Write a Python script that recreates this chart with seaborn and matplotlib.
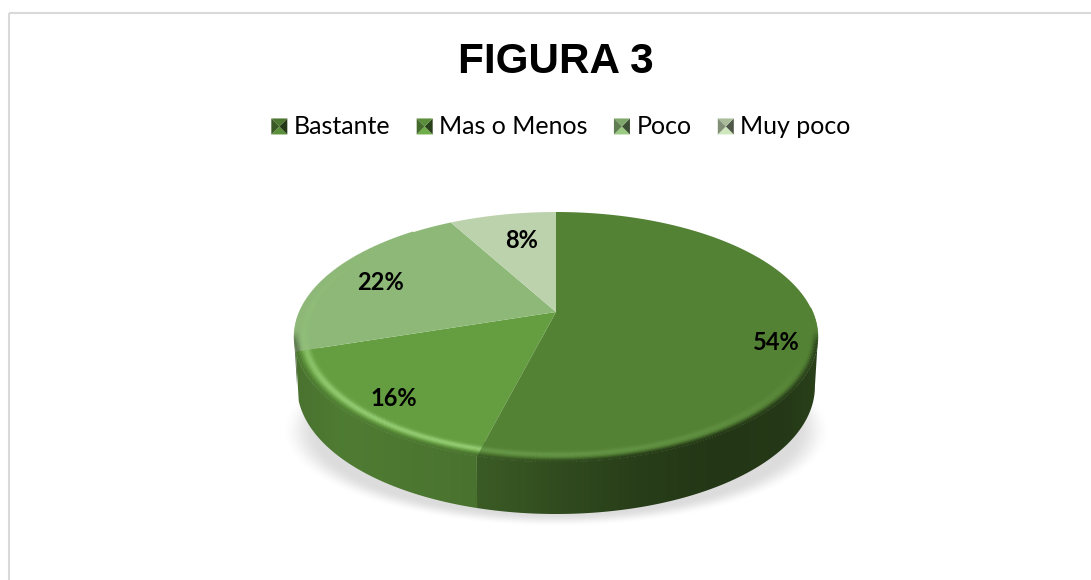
import numpy as np
import matplotlib
matplotlib.use("Agg")
import matplotlib.pyplot as plt
from matplotlib.patches import Polygon, Rectangle
from matplotlib.legend_handler import HandlerBase
from matplotlib.collections import LineCollection
from matplotlib.colors import to_rgb
import seaborn as sns

categories = ["Bastante", "Mas o Menos", "Poco", "Muy poco"]
values = [54, 16, 22, 8]
colors = ["#548235", "#659e41", "#8db877", "#bcd2ac"]
title = "FIGURA 3"

# layout (pixels)
W, H = 1091, 580
CX, AY = 556.0, 312.0
A, B, K = 256.7, 120.0, 0.2
DEPTH = 52.0
label_xy = [(776, 342), (394, 398), (380, 282), (522, 241)]

sns.set_theme(style="white")
fig = plt.figure(figsize=(W / 100, H / 100), dpi=100, facecolor="white")
ax = fig.add_axes([0, 0, 1, 1])


def project(theta_deg, r=1.0):
    t = np.radians(theta_deg)
    u, v = r * np.cos(t), r * np.sin(t)
    d = 1 + K * v
    return CX + A * u / d, AY - B * v / d


def lower(x, y, theta):
    f = 1 - 0.012 * np.abs(np.cos(np.radians(theta)))
    return CX + (x - CX) * f, y + DEPTH * (0.93 + 0.07 * -np.sin(np.radians(theta)))


def smooth(a):
    a = np.clip(a, 0, 1)
    return a * a * (3 - 2 * a)


# slice angles come from the library's pie
wedges, _ = ax.pie(values, startangle=90, counterclock=False, colors=colors, frame=True)
spans = [(min(w.theta1, w.theta2), max(w.theta1, w.theta2)) for w in wedges]
for w in wedges:
    w.remove()

# soft shadow
yy, xx = np.mgrid[0:H, 0:W]
dist = np.sqrt(((xx - CX) / 274.0) ** 2 + ((yy - 430.0) / 96.0) ** 2)
rgba = np.zeros((H, W, 4))
rgba[..., :3] = 0.62
rgba[..., 3] = smooth((1.0 - dist) / 0.13) * 0.36
ax.imshow(rgba, extent=(0, W, H, 0), zorder=1, aspect="auto")

# side wall, silhouette begins where the projected ellipse is widest
SIL_L, SIL_R = 180 + np.degrees(np.arcsin(K)), 360 - np.degrees(np.arcsin(K))
shade_x = {
    0: ([480, 560, 640, 720, 790, 820], [0.70, 0.58, 0.47, 0.42, 0.44, 0.50]),
    1: ([294, 340, 400, 478], [0.72, 0.78, 0.76, 0.72]),
    2: ([290, 300], [0.60, 0.60]),
    3: ([290, 300], [0.60, 0.60]),
}


def side_shade(i, x):
    return np.interp(x, *shade_x[i])


for i, (lo, hi) in enumerate(spans):
    for k in (-360, 0, 360):
        a, b = max(lo + k, SIL_L), min(hi + k, SIL_R)
        if b <= a:
            continue
        th = np.linspace(a, b, 200)
        x, y = project(th)
        x2, y2 = lower(x, y, th)
        poly = Polygon(np.r_[np.c_[x, y], np.c_[x2, y2][::-1]], closed=True,
                       fc="none", ec="none", transform=ax.transData)
        ax.add_patch(poly)
        cols = np.arange(int(x.min()) - 2, int(x.max()) + 3)
        img = (np.array(to_rgb(colors[i]))[None, :] * side_shade(i, cols)[:, None])[None, ...]
        im = ax.imshow(img, extent=(cols[0], cols[-1], y2.max() + 2, y.min() - 2),
                       zorder=2, aspect="auto", interpolation="bilinear")
        im.set_clip_path(poly)

# top face
for i, (lo, hi) in enumerate(spans):
    th = np.linspace(lo, hi, 300)
    x, y = project(th)
    ax.add_patch(Polygon(np.r_[[[CX, AY]], np.c_[x, y]], closed=True, fc=colors[i],
                         ec="none", zorder=3))

# bevel: highlight ring just inside the edge, melting into the wall at the edge
HL = np.array(to_rgb("#a4dc84"))
strength = {0: 0.3, 1: 0.95, 2: 0.3, 3: 0.0}
for i, (lo, hi) in enumerate(spans):
    for k in (-360, 0, 360):
        a, b = max(lo + k, 130), min(hi + k, 362)
        if b <= a:
            continue
        th = np.linspace(a, b, 160)
        thm = 0.5 * (th[:-1] + th[1:])
        for r in np.arange(0.925, 1.0001, 0.006):
            x, y = project(th, r)
            pts = np.c_[x, y][:, None, :]
            segs = np.concatenate([pts[:-1], pts[1:]], axis=1)
            xm = 0.5 * (x[:-1] + x[1:])
            base = np.array(to_rgb(colors[i]))
            fade = np.interp(thm, [130, 180, 215, 256, 300, 345], [0, 0.7, 1, 1, 0.6, 0.0])
            hl = np.exp(-(((r - 0.962) / 0.014) ** 2)) * strength[i] * fade * 0.8
            c = base[None, :] + (HL - base)[None, :] * hl[:, None]
            front = smooth((thm - SIL_L + 4) / 8) * smooth((SIL_R + 4 - thm) / 8)
            mix = smooth((r - 0.972) / 0.028) * front
            side = base[None, :] * side_shade(i, xm)[:, None]
            c = c * (1 - mix[:, None]) + side * mix[:, None]
            ax.add_collection(LineCollection(segs, colors=np.clip(c, 0, 1), linewidths=1.5,
                                             capstyle="butt", zorder=4))

# data labels
for v, (lx, ly) in zip(values, label_xy):
    ax.text(lx, ly, f"{v}%", ha="center", va="center", fontsize=17,
            fontweight="bold", family="Lato", color="black", zorder=6)

ax.text(556, 62, title, ha="center", va="center", fontsize=30.4, fontweight="bold",
        family="Liberation Sans", color="black", zorder=6)


class Pyramid(HandlerBase):
    def create_artists(self, legend, orig, xd, yd, w, h, fs, trans):
        c = np.array(to_rgb(orig.get_facecolor()))
        x0, y0 = -xd, -yd - 1
        s = 16 * 0.72
        cx, cy = x0 + s / 2, y0 + s / 2
        corners = [(x0, y0), (x0 + s, y0), (x0 + s, y0 + s), (x0, y0 + s)]
        fac = [1.10, 0.42, 0.90, 0.68]
        out = []
        for j in range(4):
            p = Polygon([corners[j], corners[(j + 1) % 4], (cx, cy)], closed=True,
                        fc=np.clip(c * fac[j], 0, 1), ec="none", transform=trans)
            out.append(p)
        return out


handles = [Rectangle((0, 0), 1, 1, fc=col) for col in colors]
ax.legend(handles, categories, handler_map={Rectangle: Pyramid()}, ncols=4, frameon=False,
          loc="center", bbox_to_anchor=(561, 126), bbox_transform=ax.transData,
          prop={"family": "Lato", "size": 18}, handlelength=0.65, handleheight=0.65,
          handletextpad=0.25, columnspacing=1.05, borderpad=0, labelcolor="black")

# chart frame (runs off the image on the right and bottom)
ax.add_patch(Rectangle((9, 13), W + 20, H + 20, fc="none", ec="#d9d9d9", lw=1.5, zorder=7))

ax.set_xlim(0, W)
ax.set_ylim(H, 0)
ax.set_aspect("auto")
ax.axis("off")
fig.savefig("out.png", dpi=100, facecolor="white")
